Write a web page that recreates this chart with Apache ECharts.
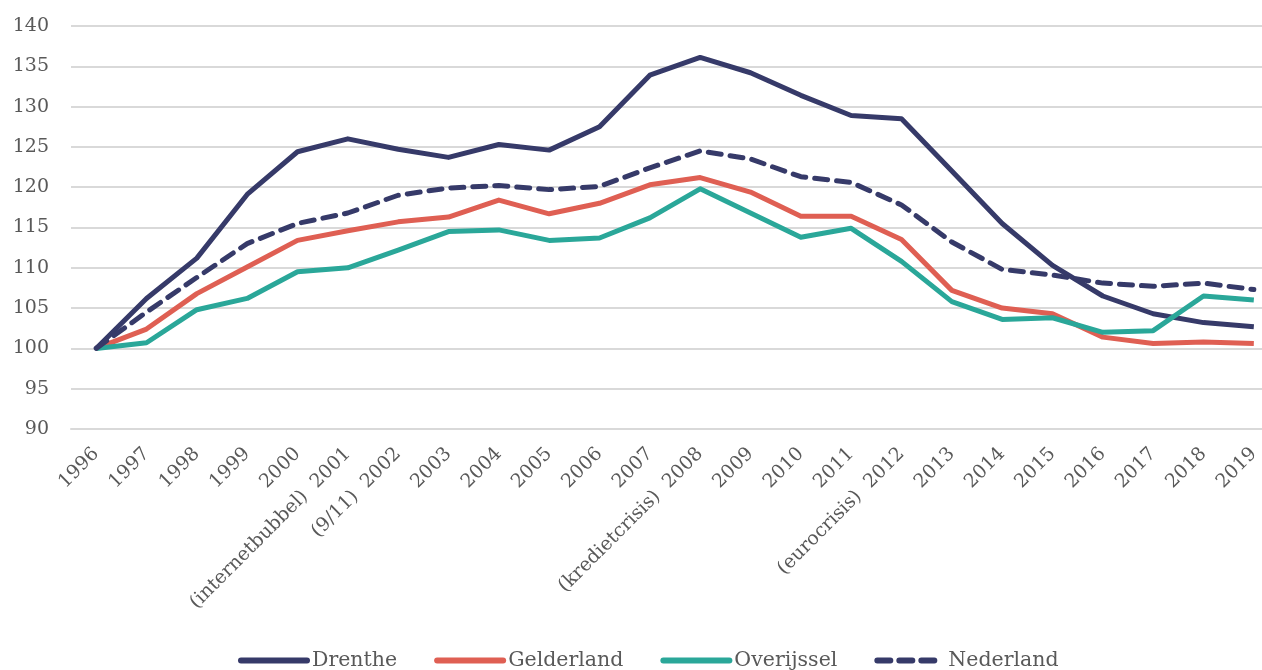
<!DOCTYPE html>
<html>
<head>
<meta charset="utf-8">
<script src="https://cdn.jsdelivr.net/npm/echarts@6/dist/echarts.min.js"></script>
<style>
    html, body { margin: 0; padding: 0; background: #fff; }
    #chart { width: 1262px; height: 670px; }
</style>
</head>
<body>
<div id="chart"></div>
<script>
var jaren = ['1996', '1997', '1998', '1999', '2000', '(internetbubbel)  2001', '(9/11)  2002', '2003', '2004', '2005', '2006', '2007',
    '(kredietcrisis)  2008', '2009', '2010', '2011', '(eurocrisis)  2012', '2013', '2014', '2015', '2016', '2017', '2018', '2019'];
var drenthe = [100, 106.2, 111.2, 119.1, 124.4, 126.0, 124.7, 123.7, 125.3, 124.6, 127.5, 133.9,
    136.1, 134.2, 131.4, 128.9, 128.5, 122.0, 115.5, 110.3, 106.5, 104.3, 103.2, 102.7];
var gelderland = [100, 102.4, 106.8, 110.1, 113.4, 114.6, 115.7, 116.3, 118.4, 116.7, 118.0, 120.3,
    121.2, 119.4, 116.4, 116.4, 113.5, 107.2, 105.0, 104.3, 101.4, 100.6, 100.8, 100.6];
var overijssel = [100, 100.7, 104.8, 106.2, 109.5, 110.0, 112.2, 114.5, 114.7, 113.4, 113.7, 116.2,
    119.8, 116.8, 113.8, 114.9, 110.8, 105.8, 103.6, 103.8, 102.0, 102.2, 106.5, 106.0];
var nederland = [100, 104.5, 108.8, 113.0, 115.5, 116.8, 119.0, 119.9, 120.2, 119.7, 120.1, 122.4,
    124.5, 123.5, 121.3, 120.6, 117.8, 113.2, 109.8, 109.1, 108.1, 107.7, 108.1, 107.3];

var fontFam = '"DejaVu Serif", "Liberation Serif", serif';
var tekstKleur = '#595959';

var mychart = echarts.init(document.getElementById('chart'));
mychart.setOption({
    animation: false,
    color: ['#363a69', '#df5f53', '#2aa799', '#363a69'],
    textStyle: {
        fontFamily: fontFam
    },
    legend: {
        bottom: -6,
        left: 233,
        itemWidth: 66,
        itemHeight: 14,
        itemGap: 37,
        itemStyle: { opacity: 0 },
        lineStyle: { width: 6, cap: 'round' },
        textStyle: {
            fontSize: 20.5,
            color: tekstKleur,
            fontFamily: fontFam
        },
        data: ['Drenthe', 'Gelderland', 'Overijssel', 'Nederland']
    },
    grid: {
        left: 71,
        width: 1208,
        top: 26,
        bottom: 241,
        outerBoundsMode: 'none'
    },
    xAxis: {
        type: 'category',
        boundaryGap: true,
        data: jaren,
        axisLine: {
            lineStyle: { color: '#d9d9d9', width: 2 }
        },
        axisTick: { show: false },
        axisLabel: {
            interval: 0,
            rotate: 45,
            margin: 22,
            fontSize: 19,
            color: tekstKleur,
            fontFamily: fontFam
        }
    },
    yAxis: {
        type: 'value',
        min: 90,
        max: 140,
        interval: 5,
        axisLine: { show: false },
        axisTick: { show: false },
        axisLabel: {
            margin: 22,
            fontSize: 19,
            color: tekstKleur,
            fontFamily: fontFam
        },
        splitLine: {
            lineStyle: { color: '#d9d9d9', width: 2 }
        }
    },
    series: [
        {
            name: 'Drenthe',
            type: 'line',
            data: drenthe,
            symbol: 'none',
            lineStyle: { width: 5, join: 'round' }
        },
        {
            name: 'Gelderland',
            type: 'line',
            data: gelderland,
            symbol: 'none',
            lineStyle: { width: 5, join: 'round' }
        },
        {
            name: 'Overijssel',
            type: 'line',
            data: overijssel,
            symbol: 'none',
            lineStyle: { width: 5, join: 'round' }
        },
        {
            name: 'Nederland',
            type: 'line',
            data: nederland,
            symbol: 'none',
            lineStyle: { width: 5, type: [13, 9], cap: 'round', join: 'round' }
        }
    ]
});
</script>
</body>
</html>
